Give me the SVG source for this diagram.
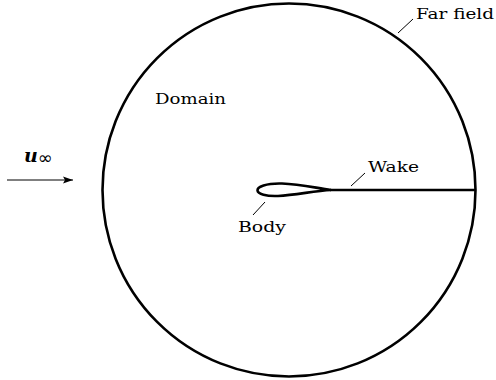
<svg xmlns="http://www.w3.org/2000/svg" width="496" height="380" viewBox="0 0 496 380">
<style>
.lbl{font-family:"DejaVu Serif","Liberation Serif",serif;font-size:15px;fill:#000}
.thick{fill:none;stroke:#000;stroke-width:2.6}
.lead{fill:none;stroke:#000;stroke-width:1}
</style>
<defs>
<marker id="ah" viewBox="0 0 10 10" refX="10" refY="5" markerWidth="10" markerHeight="10" markerUnits="userSpaceOnUse" orient="auto">
<path d="M0,1.5 L10,5 L0,8.5 L2,5 Z" fill="#000"/>
</marker>
</defs>
<g id="farfield">
<circle class="thick" cx="289" cy="190" r="186.5"/>
</g>
<g id="body">
<path class="thick" d="M331,190 C316,188 300,184 282,183.5 C266,183 257,187 257.5,190.5 C258,194 266,196.5 278,196 C296,195 314,191 331,190 Z"/>
</g>
<g id="wake">
<line class="thick" x1="330" y1="190" x2="476" y2="190"/>
</g>
<g id="connectors">
<line class="lead" x1="7" y1="180" x2="73" y2="180" marker-end="url(#ah)"/>
<line class="lead" x1="265" y1="202" x2="253" y2="215"/>
<line class="lead" x1="351" y1="186" x2="365" y2="173"/>
<line class="lead" x1="398" y1="33" x2="413" y2="19"/>
</g>
<g id="labels">
<text class="lbl" x="155" y="104" textLength="71" lengthAdjust="spacingAndGlyphs">Domain</text>
<text class="lbl" x="238" y="232" textLength="48" lengthAdjust="spacingAndGlyphs">Body</text>
<text class="lbl" x="368" y="172" textLength="51" lengthAdjust="spacingAndGlyphs">Wake</text>
<text class="lbl" x="416" y="19" textLength="78" lengthAdjust="spacingAndGlyphs">Far field</text>
<text x="24" y="162" font-family="'DejaVu Serif',serif" font-weight="bold" font-style="italic" font-size="19">u<tspan font-family="'DejaVu Sans',sans-serif" font-size="18" font-weight="normal" font-style="normal" dy="2">∞</tspan></text>
</g>
</svg>
